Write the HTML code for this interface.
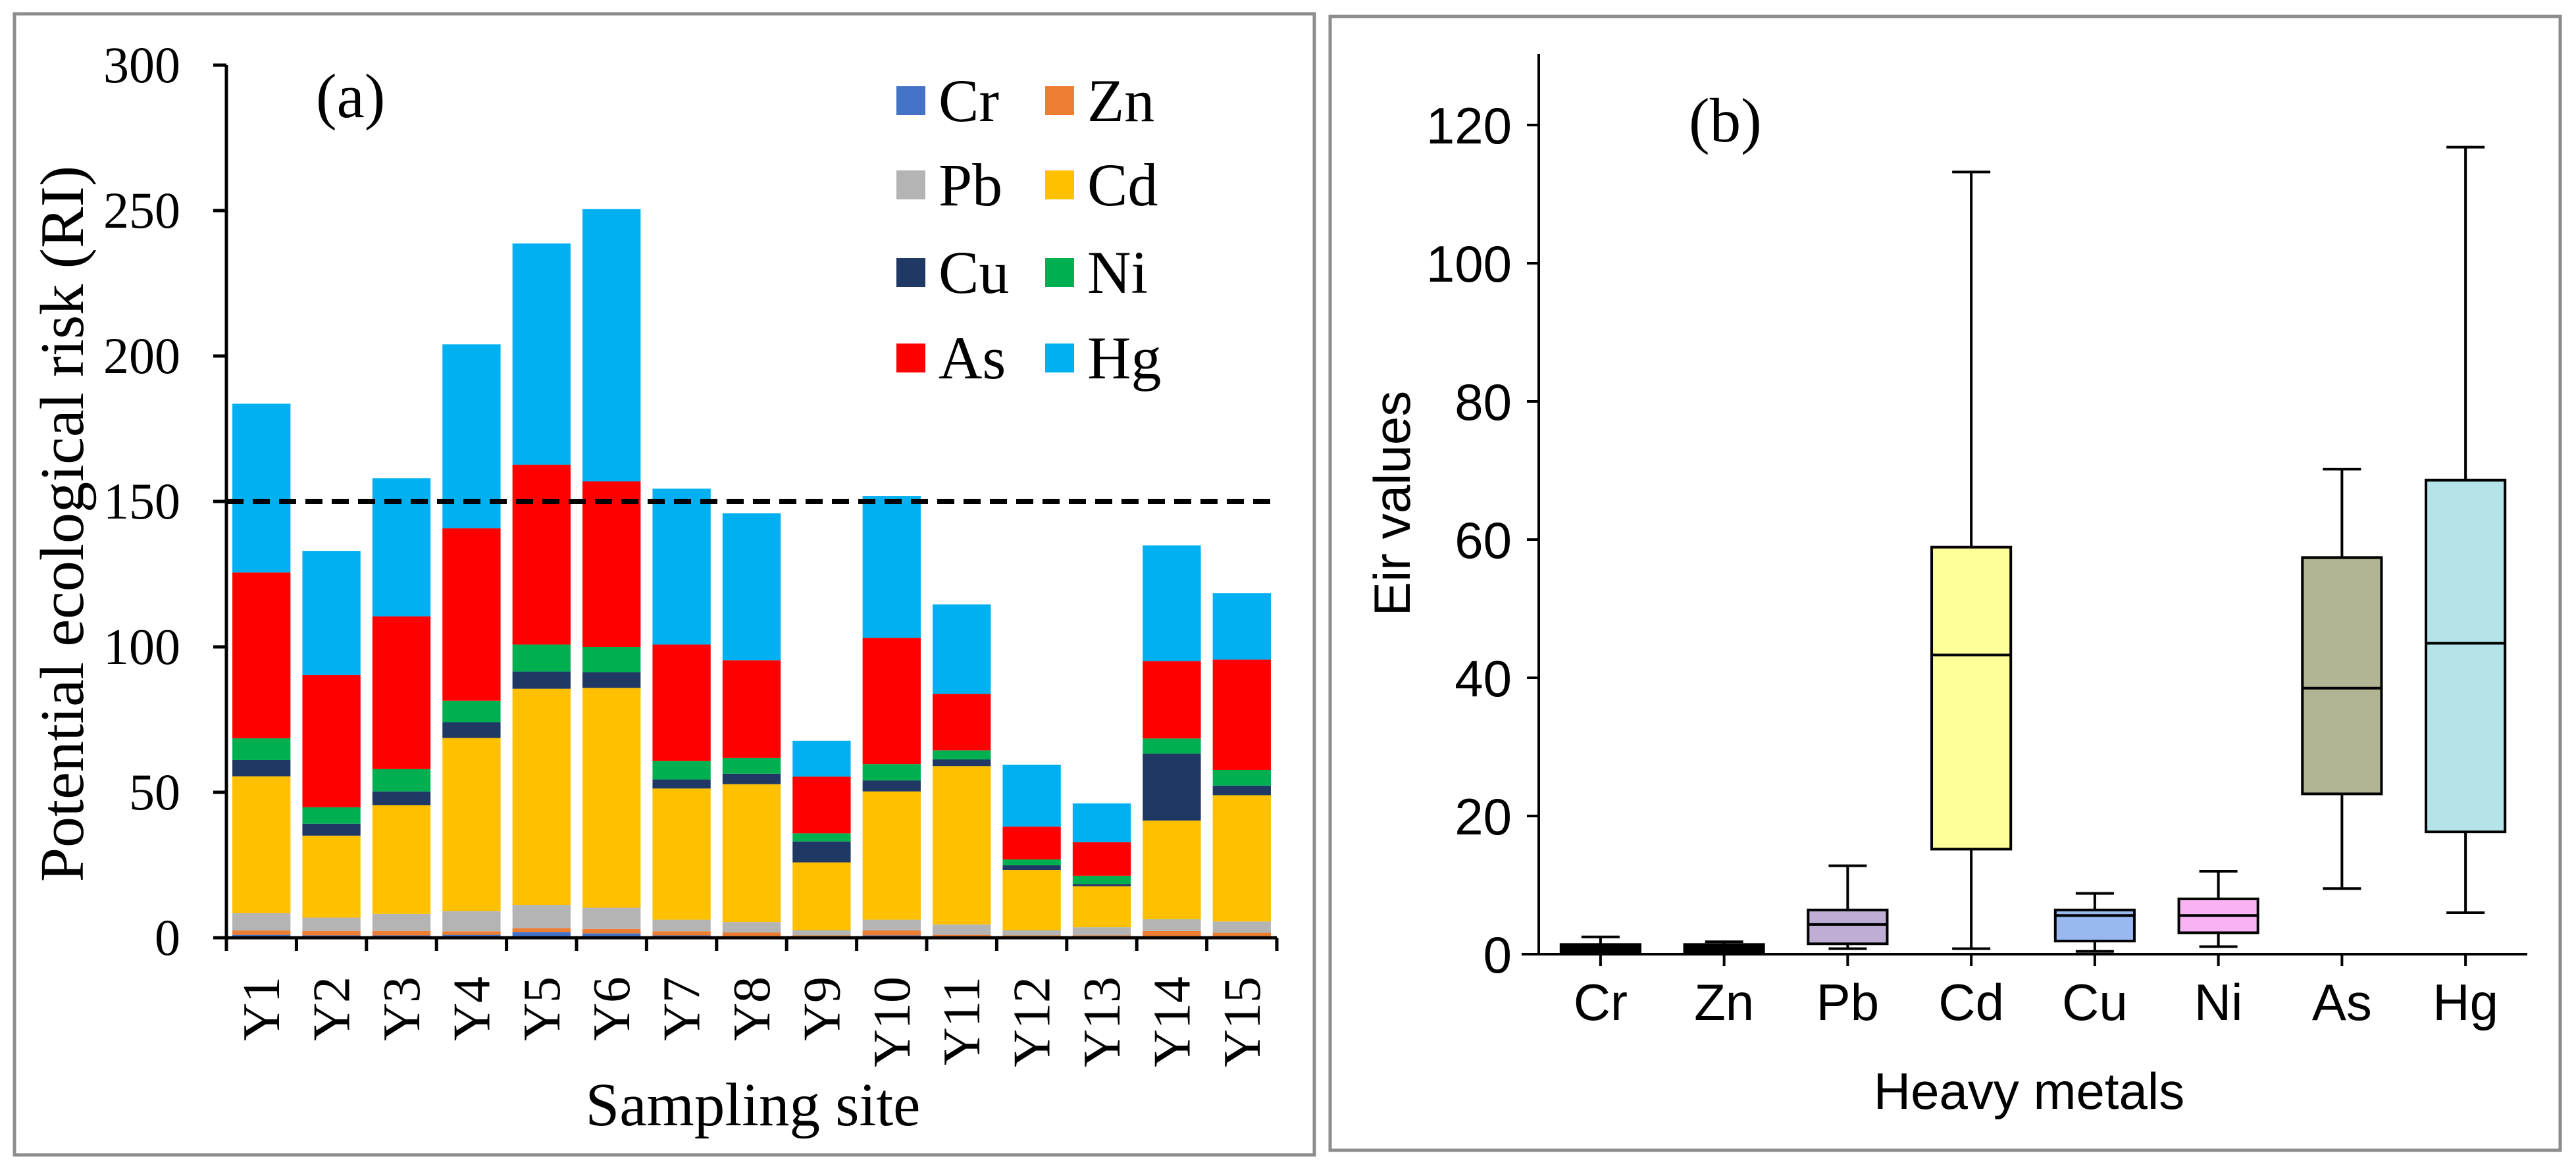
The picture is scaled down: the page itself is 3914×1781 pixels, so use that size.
<!DOCTYPE html>
<html><head><meta charset="utf-8"><style>
html,body{margin:0;padding:0;background:#fff;}
svg{display:block;}
.tm{font-family:"Liberation Serif",serif;}
.ar{font-family:"Liberation Sans",sans-serif;}
</style></head><body>
<svg id="chart" width="3914" height="1781" viewBox="0 0 3914 1781" xmlns="http://www.w3.org/2000/svg">
<rect x="0" y="0" width="3914" height="1781" fill="#fff"/>
<rect x="22" y="21" width="1975" height="1734" fill="none" stroke="#8c8c8c" stroke-width="5"/>
<rect x="2021" y="25" width="1869" height="1723" fill="none" stroke="#8c8c8c" stroke-width="5"/>
<g id="pa"></g>
<g id="pb"></g>
</svg>
<script>
const NS="http://www.w3.org/2000/svg";
// ---- Panel (a) data ----
const sites=["Y1","Y2","Y3","Y4","Y5","Y6","Y7","Y8","Y9","Y10","Y11","Y12","Y13","Y14","Y15"];
const metalsA=["Cr","Zn","Pb","Cd","Cu","Ni","As","Hg"];
const crVals=[1,0.8,0.8,1,2,1.5,0.8,0.5,0.3,0.8,0.4,0.3,0.3,0.5,0.5];
const znVals=[1.5,1.5,1.5,1.2,1.3,1.5,1.4,1.3,0.5,1.7,0.6,0.5,0.5,1.8,1.2];
const pbVals=[6,4.6,5.9,7,8,7.3,4,3.6,1.8,3.7,3.6,1.8,2.8,4.1,3.9];
const cdVals=[47,28.2,37.4,59.5,74.3,75.6,45.1,47.4,23.3,44.1,54.4,20.7,14.1,33.9,43.4];
const cuVals=[5.6,4.1,4.7,5.4,5.9,5.4,3.1,3.6,7.2,3.8,2.3,1.6,0.8,23,3.3];
const niVals=[7.5,5.7,7.7,7.4,9.3,8.7,6.4,5.4,2.8,5.6,3.1,2,2.8,5.2,5.4];
const asVals=[57,45.4,52.5,59.3,61.8,56.9,40,33.6,19.5,43.4,19.4,11.3,11.5,26.6,37.9];
const hgVals=[58,42.7,47.5,63.2,76.1,93.6,53.6,50.5,12.3,48.7,30.8,21.3,13.4,39.8,22.9];
const yTicksA=[0,50,100,150,200,250,300];
const thresholdA=150;
// ---- Panel (b) data ----
const metalsB=["Cr","Zn","Pb","Cd","Cu","Ni","As","Hg"];
const bMin=[0.3,0.3,0.8,0.8,0.4,1.1,9.5,6];
const bQ1=[0.3,0.3,1.5,15.2,1.9,3.1,23.2,17.7];
const bMed=[0.9,0.9,4.3,43.3,5.6,5.6,38.5,45];
const bQ3=[1.4,1.4,6.4,58.9,6.4,8,57.4,68.6];
const bMax=[2.5,1.8,12.8,113.2,8.8,12,70.2,116.8];
const yTicksB=[0,20,40,60,80,100,120];

function el(parent,tag,attrs,name,inter,text){
  const e=document.createElementNS(NS,tag);
  for(const k in attrs)e.setAttribute(k,attrs[k]);
  
  
  if(text!==undefined)e.textContent=text;
  parent.appendChild(e);return e;
}

// ---- Panel A ----
(function(){
const g=document.getElementById('pa');
const colors={Cr:"#4472c4",Zn:"#ed7d31",Pb:"#b4b4b4",Cd:"#ffc000",Cu:"#203864",Ni:"#00b050",As:"#ff0000",Hg:"#00b0f0"};
const series={Cr:crVals,Zn:znVals,Pb:pbVals,Cd:cdVals,Cu:cuVals,Ni:niVals,As:asVals,Hg:hgVals};
const x0=344,x1=1940,y0=1425,yTop=99,ymax=300;
const y=v=>y0-(v/ymax)*(y0-yTop);
const pitch=(x1-x0)/sites.length;
const bw=pitch*0.83;
sites.forEach((s,i)=>{
  let cum=0;
  const cx=x0+pitch*(i+0.5);
  metalsA.forEach(m=>{
    const v=series[m][i];
    const r=document.createElementNS(NS,'rect');
    r.setAttribute('x',cx-bw/2);r.setAttribute('y',y(cum+v));
    r.setAttribute('width',bw);r.setAttribute('height',y(cum)-y(cum+v));
    r.setAttribute('fill',colors[m]);
    
    
    g.appendChild(r);
    cum+=v;
  });
  el(g,'text',{x:0,y:0,'font-size':80,class:'tm','text-anchor':'end',transform:`translate(${cx+27},1484) rotate(-90)`},'x-tick-label',false,s);
});
el(g,'line',{x1:x0,y1:y0,x2:x0,y2:yTop,stroke:'#000','stroke-width':5},'y-axis-a',false);
el(g,'line',{x1:x0-16,y1:y0,x2:x1,y2:y0,stroke:'#000','stroke-width':5},'x-axis-a',false);
yTicksA.forEach(v=>{
  el(g,'line',{x1:x0-20,y1:y(v),x2:x0,y2:y(v),stroke:'#000','stroke-width':5},'y-tick',false);
  el(g,'text',{x:274,y:y(v)+26,'font-size':78,class:'tm','text-anchor':'end'},'y-tick-label',false,String(v));
});
for(let i=0;i<=sites.length;i++){
  const xx=x0+pitch*i;
  el(g,'line',{x1:xx,y1:y0,x2:xx,y2:y0+20,stroke:'#000','stroke-width':5},'x-tick',false);
}
el(g,'line',{x1:x0,y1:y(thresholdA),x2:x1,y2:y(thresholdA),stroke:'#000','stroke-width':8,'stroke-dasharray':'26,14'},'threshold-line-150',false);
el(g,'text',{x:0,y:0,'font-size':94,class:'tm','text-anchor':'middle',transform:'translate(126,796) rotate(-90)'},'y-axis-title',false,'Potential ecological risk (RI)');
el(g,'text',{x:1144,y:1710,'font-size':93,class:'tm','text-anchor':'middle'},'x-axis-title',false,'Sampling site');
el(g,'text',{x:480,y:178,'font-size':95,class:'tm'},'panel-label-a',false,'(a)');
const rows=[153,281,414,544], cols=[[1362,1426],[1588,1652]];
metalsA.forEach((m,k)=>{
  const r=Math.floor(k/2),c=k%2;
  el(g,'rect',{x:cols[c][0],y:rows[r]-22,width:44,height:44,fill:colors[m]},'legend-swatch-'+m.toLowerCase(),false);
  el(g,'text',{x:cols[c][1],y:rows[r]+31,'font-size':92,class:'tm'},'legend-label-'+m.toLowerCase(),false,m);
});
})();

// ---- Panel B ----
(function(){
const g=document.getElementById('pb');
const fills=["#000","#000","#bfaed4","#ffff99","#99b8f0","#f9b3f3","#b2b593","#b4e3e8"];
const x0=2338,x1=3840,y0=1450,ymaxPix=190,vmaxTick=120;
const y=v=>y0-(v/vmaxTick)*(y0-ymaxPix);
const pitch=(x1-x0)/metalsB.length;
const bw=pitch*0.64, cw=58;
el(g,'line',{x1:x0,y1:y0,x2:x0,y2:82,stroke:'#000','stroke-width':4},'y-axis-b',false);
el(g,'line',{x1:x0-26,y1:y0,x2:x1,y2:y0,stroke:'#000','stroke-width':4},'x-axis-b',false);
yTicksB.forEach(v=>{
  el(g,'line',{x1:x0-18,y1:y(v),x2:x0,y2:y(v),stroke:'#000','stroke-width':4},'y-tick',false);
  el(g,'text',{x:2297,y:y(v)+28,'font-size':78,class:'ar','text-anchor':'end'},'y-tick-label',false,String(v));
});
metalsB.forEach((m,i)=>{
  const cx=x0+pitch*(i+0.5);
  el(g,'line',{x1:cx,y1:y0,x2:cx,y2:y0+18,stroke:'#000','stroke-width':4},'x-tick',false);
  el(g,'line',{x1:cx,y1:y(bMax[i]),x2:cx,y2:y(bMin[i]),stroke:'#000','stroke-width':4},'whisker-'+m.toLowerCase(),false);
  el(g,'line',{x1:cx-cw/2,y1:y(bMax[i]),x2:cx+cw/2,y2:y(bMax[i]),stroke:'#000','stroke-width':4},'whisker-cap-max-'+m.toLowerCase(),false);
  el(g,'line',{x1:cx-cw/2,y1:y(bMin[i]),x2:cx+cw/2,y2:y(bMin[i]),stroke:'#000','stroke-width':4},'whisker-cap-min-'+m.toLowerCase(),false);
  el(g,'rect',{x:cx-bw/2,y:y(bQ3[i]),width:bw,height:Math.max(y(bQ1[i])-y(bQ3[i]),6),fill:fills[i],stroke:'#000','stroke-width':4},'box-'+m.toLowerCase(),false);
  el(g,'line',{x1:cx-bw/2,y1:y(bMed[i]),x2:cx+bw/2,y2:y(bMed[i]),stroke:'#000','stroke-width':4},'median-'+m.toLowerCase(),false);
  el(g,'text',{x:cx,y:1550,'font-size':78,class:'ar','text-anchor':'middle'},'x-tick-label',false,m);
});
el(g,'text',{x:3083,y:1685,'font-size':78,class:'ar','text-anchor':'middle'},'x-axis-title-b',false,'Heavy metals');
el(g,'text',{x:0,y:0,'font-size':78,class:'ar','text-anchor':'middle',transform:'translate(2142,765) rotate(-90)'},'y-axis-title-b',false,'Eir values');
el(g,'text',{x:2566,y:215,'font-size':95,class:'tm'},'panel-label-b',false,'(b)');
})();
</script>
</body></html>
